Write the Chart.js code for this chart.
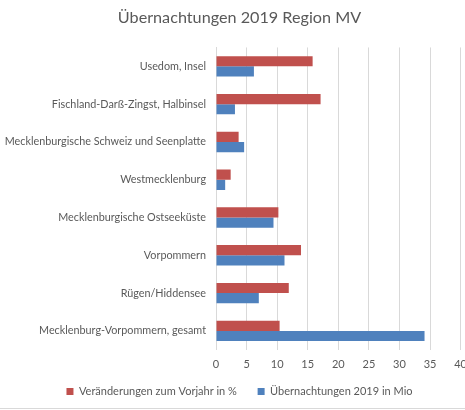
<!DOCTYPE html>
<html>
<head>
<meta charset="utf-8">
<script src="https://cdn.jsdelivr.net/npm/chart.js@4"></script>
<style>
    body { margin: 0; overflow: hidden; background: #fff; }
    #wrap { position: relative; width: 475px; height: 408px; border-bottom: 1px solid #d9d9d9; }
</style>
</head>
<body>
<div id="wrap"><canvas id="myChart"></canvas></div>
<script>
// Regionen (von oben nach unten)
var regions = [
    'Usedom, Insel',
    'Fischland-Darß-Zingst, Halbinsel',
    'Mecklenburgische Schweiz und Seenplatte',
    'Westmecklenburg',
    'Mecklenburgische Ostseeküste',
    'Vorpommern',
    'Rügen/Hiddensee',
    'Mecklenburg-Vorpommern, gesamt'
];

// Veränderungen zum Vorjahr in %
var changePct = [15.8, 17.1, 3.7, 2.4, 10.2, 13.9, 11.9, 10.4];
// Übernachtungen 2019 in Mio
var nights = [6.2, 3.1, 4.6, 1.5, 9.4, 11.2, 7.0, 34.1];

var xTicks = [0, 5, 10, 15, 20, 25, 30, 35, 40];

var textColor = '#595959';
var font = 'Lato, "Open Sans", sans-serif';

const config = {
    type: 'bar',
    data: {
        labels: regions,
        datasets: [
            {
                label: 'Veränderungen zum Vorjahr in %',
                backgroundColor: '#c0504d',
                data: changePct,
            },
            {
                label: 'Übernachtungen 2019 in Mio',
                backgroundColor: '#4f81bd',
                data: nights,
            }
        ]
    },
    options: {
        indexAxis: 'y',
        responsive: true,
        maintainAspectRatio: false,
        animation: false,
        categoryPercentage: 0.54,
        barPercentage: 1,
        layout: { padding: { left: 4, right: 0, top: 0, bottom: 1 } },
        scales: {
            x: {
                min: 0,
                max: 40,
                afterBuildTicks: scale => {
                    scale.ticks = xTicks.map(v => ({ value: v }));
                },
                grid: { color: '#d9d9d9', drawTicks: false },
                border: { display: false },
                ticks: { color: textColor, padding: 8, font: { family: font, size: 11 } }
            },
            y: {
                grid: { display: false },
                border: { color: '#d9d9d9' },
                afterFit: scale => { scale.width = 212; },
                ticks: { color: textColor, padding: 2, font: { family: font, size: 10.8 } }
            }
        },
        plugins: {
            legend: {
                position: 'bottom',
                labels: {
                    color: textColor,
                    boxWidth: 7,
                    boxHeight: 7,
                    padding: 7,
                    font: { family: font, size: 11 },
                    // wider gap after the first entry, like the original
                    generateLabels: chart => {
                        var items = Chart.defaults.plugins.legend.labels.generateLabels(chart);
                        items[0].text += '\u2003\u2002';
                        return items;
                    }
                }
            },
            title: {
                display: true,
                text: 'Übernachtungen 2019 Region MV',
                color: textColor,
                font: { family: font, size: 16.2, weight: 'normal' },
                padding: { top: 8, bottom: 20 }
            },
            tooltip: { enabled: false }
        }
    }
};

var myChart = new Chart(document.getElementById('myChart'), config);
</script>
</body>
</html>
